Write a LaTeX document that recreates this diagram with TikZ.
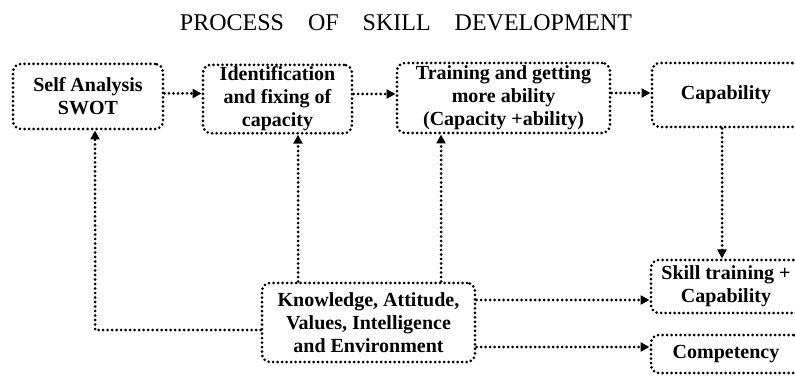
\documentclass[tikz,border=0pt]{standalone}
\usepackage{fontspec}
\setmainfont{Liberation Serif}
\usetikzlibrary{arrows.meta,positioning}

\begin{document}
\begin{tikzpicture}[x=1pt,y=1pt]
\tikzstyle{box}=[draw=black,rounded corners=8pt,line width=3pt,dash pattern=on 0pt off 4.5pt,line cap=round,align=center,inner sep=2pt,font=\fontsize{20}{23}\selectfont\bfseries]
\tikzstyle{link}=[-{Triangle[length=9pt,width=9pt]},line width=3pt,dash pattern=on 0pt off 4.5pt,line cap=round]

\clip (0,0) rectangle (795,375);

\node (title) at (406,352) {\fontsize{24}{28}\selectfont PROCESS\quad OF\quad SKILL\quad DEVELOPMENT};

\node [box,minimum width=150pt,minimum height=65pt] (swot) at (88,278.5) {Self Analysis\\SWOT};
\node [box,minimum width=149pt,minimum height=68pt] (ident) at (277.5,276) {Identification\\and fixing of\\capacity};
\node [box,minimum width=213pt,minimum height=70pt] (train) at (503.5,277) {Training and getting\\more ability\\(Capacity +ability)};
\node [box,minimum width=148pt,minimum height=64pt] (capab) at (726,280) {Capability};
\node [box,minimum width=150pt,minimum height=53pt] (skill) at (726,88.5) {Skill training +\\Capability};
\node [box,minimum width=150pt,minimum height=38pt] (comp) at (726,21) {Competency};
\node [box,minimum width=213pt,minimum height=79pt] (know) at (368.5,52.5) {Knowledge, Attitude,\\Values, Intelligence\\and Environment};

% top row
\draw [link] ([yshift=3pt]swot.east) -- ([yshift=3pt]swot.east -| ident.west);
\draw [link] ([yshift=5pt]ident.east) -- ([yshift=5pt]ident.east -| train.west);
\draw [link] ([yshift=5pt]train.east) -- ([yshift=5pt]train.east -| capab.west);
\draw [link] ([xshift=-4pt]capab.south) -- ([xshift=-4pt]skill.north);

% from knowledge box
\draw [link] ([yshift=-7.5pt]know.west) -| ([xshift=7pt]swot.south);
\draw [link] ([xshift=-70.5pt]know.north) -- ([xshift=-70.5pt]know.north |- ident.south);
\draw [link] ([xshift=72.5pt]know.north) -- ([xshift=72.5pt]know.north |- train.south);
\draw [link] ([yshift=22.5pt]know.east) -- ([yshift=22.5pt]know.east -| skill.west);
\draw [link] ([yshift=-24.5pt]know.east) -- ([yshift=-24.5pt]know.east -| comp.west);
\end{tikzpicture}
\end{document}
